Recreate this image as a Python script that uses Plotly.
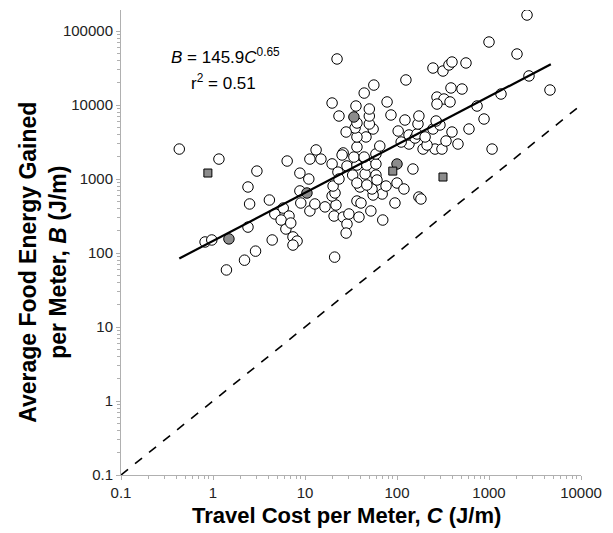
import plotly.graph_objects as go

# Open circles: travel cost C (J/m), energy gained B (J/m)
open_C = [0.43, 1.16, 3.0, 6.4, 2.4, 2.5, 4.1, 2.4, 0.82, 0.97, 4.4, 7.4, 8.2, 7.4, 2.9, 2.2, 1.4,
          21, 6.2, 5.8, 4.7, 6.7, 5.5, 7.0, 9.0, 8.8, 8.8, 11, 11.3, 13.2, 14.9, 19.7, 26,
          11.3, 12.8, 16.5, 21.7, 20.7, 26, 28.6, 28, 30, 38.6, 52, 70, 36.7, 40.6, 95, 173, 182,
          69, 55, 53.5, 39.6, 19.7, 21.2, 20.2, 22.8, 23.4, 33, 45, 59, 36.7, 47, 60.6, 76, 100,
          119, 149, 28.6, 36.7, 47, 59, 25.3, 34, 44, 59, 65, 36.7, 192, 259, 308, 212, 341, 460,
          396, 606, 1080, 883, 135, 135, 157, 165, 202, 111, 103, 246, 293, 266, 169, 173, 122,
          86, 46, 36.7, 55, 35, 28, 36.7, 50, 50, 23.4, 50, 35.8, 19.7, 78, 44, 56, 125, 22.3,
          272, 324, 377, 272, 741, 386, 509, 1350, 246, 316, 367, 396, 562, 2720, 4600, 2015,
          1000, 2590]
open_B = [2540, 1860, 1280, 1750, 780, 460, 520, 224, 141, 150, 150, 165, 145, 128, 106, 80, 59,
          88, 211, 405, 337, 316, 279, 254, 474, 690, 1200, 1000, 1860, 2470, 1860, 1600, 2250,
          370, 460, 420, 445, 316, 306, 246, 186, 337, 306, 370, 279, 504, 474, 474, 571, 537,
          627, 608, 733, 780, 589, 647, 804, 1240, 1000, 1130, 1170, 1130, 883, 830, 969, 804, 883,
          733, 1365, 1500, 1545, 1545, 1595, 2110, 1980, 1980, 2180, 2790, 2710, 2540, 2540, 2540,
          2880, 3265, 2970, 4315, 4740, 2540, 6470, 2970, 3935, 3580, 4055, 3700, 3160, 4450, 4740,
          5370, 6080, 5540, 7100, 6270, 7330, 3700, 3700, 4740, 4890, 4315, 5710, 5540, 7100,
          7100, 8830, 9690, 10640, 11000, 14500, 18600, 21800, 41900, 12800, 12050, 11000, 10300,
          9690, 17000, 16450, 14080, 31600, 28800, 34750, 38100, 37000, 24700, 15950, 48900,
          71000, 164500]

# Gray filled circles
gray_C = [34, 100, 10.5, 1.49]
gray_B = [6890, 1595, 647, 155]

# Gray squares
sq_C = [0.88, 90, 316]
sq_B = [1205, 1280, 1064]

# Fitted power law B = a * C^b
fit_a = 145.9
fit_b = 0.65
fit_C = [0.43, 4700]
fit_B = [fit_a * c ** fit_b for c in fit_C]

# 1:1 line
one_C = [0.1, 10000]
one_B = [0.1, 10000]

x_tickvals = [0.1, 1, 10, 100, 1000, 10000]
x_ticktext = ["0.1", "1", "10", "100", "1000", "10000"]
y_tickvals = [0.1, 1, 10, 100, 1000, 10000, 100000]
y_ticktext = ["0.1", "1", "10", "100", "1000", "10000", "100000"]

x_minor = [m * 10.0 ** k for k in range(-1, 4) for m in range(2, 10)]
y_minor = [m * 10.0 ** k for k in range(-1, 6) for m in range(2, 10)]

FONT = "Arial, Liberation Sans, Helvetica, sans-serif"

fig = go.Figure()
fig.add_trace(go.Scatter(x=one_C, y=one_B, mode="lines",
                         line=dict(color="black", width=1.6, dash="dash"), hoverinfo="skip"))
fig.add_trace(go.Scatter(x=open_C, y=open_B, mode="markers",
                         marker=dict(symbol="circle", size=10.5, color="white",
                                     line=dict(color="black", width=1))))
fig.add_trace(go.Scatter(x=gray_C, y=gray_B, mode="markers",
                         marker=dict(symbol="circle", size=10.5, color="#8c8c8c",
                                     line=dict(color="black", width=1))))
fig.add_trace(go.Scatter(x=sq_C, y=sq_B, mode="markers",
                         marker=dict(symbol="square", size=8, color="#8c8c8c",
                                     line=dict(color="black", width=1))))
fig.add_trace(go.Scatter(x=fit_C, y=fit_B, mode="lines",
                         line=dict(color="black", width=2.2), hoverinfo="skip"))

axis_common = dict(
    type="log", showgrid=False, zeroline=False, automargin=False,
    showline=True, linecolor="#b0b0b0", linewidth=1,
    ticks="outside", ticklen=4, tickcolor="#b0b0b0",
    tickfont=dict(family=FONT, size=15, color="#222"),
)

fig.update_xaxes(axis_common, range=[-1, 4], tickvals=x_tickvals, ticktext=x_ticktext,
                 minor=dict(tickvals=x_minor, ticks="outside", ticklen=3, tickcolor="#b0b0b0",
                            showgrid=False))
fig.update_yaxes(axis_common, range=[-1, 5.284], tickvals=y_tickvals, ticktext=y_ticktext,
                 minor=dict(tickvals=y_minor, ticks="outside", ticklen=3, tickcolor="#b0b0b0",
                            showgrid=False))

# Axis titles
fig.add_annotation(x=0.49, y=-0.087, xref="paper", yref="paper", xanchor="center", yanchor="middle",
                   text="<b>Travel Cost per Meter, <i>C</i> (J/m)</b>", showarrow=False,
                   font=dict(family=FONT, size=22, color="black"))
fig.add_annotation(x=-0.17, y=0.458, xref="paper", yref="paper", xanchor="center", yanchor="middle",
                   textangle=-90,
                   text="<b>Average Food Energy Gained<br>per Meter, <i>B</i> (J/m)</b>", showarrow=False,
                   font=dict(family=FONT, size=23, color="black"))

# Equation
fig.add_annotation(x=0.104, y=0.9, xref="paper", yref="paper", xanchor="left", yanchor="middle",
                   text="<i>B</i> = 145.9<i>C</i><sup>0.65</sup>", showarrow=False,
                   font=dict(family=FONT, size=17, color="black"))
fig.add_annotation(x=0.148, y=0.846, xref="paper", yref="paper", xanchor="left", yanchor="middle",
                   text="r<sup>2</sup> = 0.51", showarrow=False,
                   font=dict(family=FONT, size=17, color="black"))

# The page body keeps an 8px default margin, so the figure is sized to fit the window.
fig.update_layout(
    width=605, height=525,
    margin=dict(l=113, r=32, t=2, b=58),
    paper_bgcolor="white", plot_bgcolor="white",
    showlegend=False,
    font=dict(family=FONT),
)

fig.write_html("out.html")
